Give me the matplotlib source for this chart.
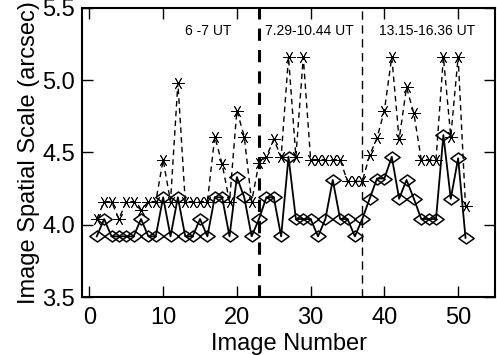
import numpy as np
import matplotlib
matplotlib.use("Agg")
import matplotlib.pyplot as plt
from matplotlib.path import Path

plt.rcParams['font.family'] = ['Liberation Sans', 'DejaVu Sans']

# ========================
# Data
# ========================
image_number = list(range(1, 52))

# solid line, diamonds
scale_diamond = [
    3.92, 4.04, 3.92, 3.92, 3.92, 3.92, 4.04, 3.92, 3.92, 4.19,
    3.92, 4.19, 3.92, 3.92, 4.04, 3.92, 4.19, 4.19, 3.92, 4.33,
    4.19, 3.92, 4.04, 4.19, 4.19, 3.92, 4.47, 4.04, 4.04, 4.04,
    3.92, 4.04, 4.31, 4.04, 4.04, 3.92, 4.04, 4.18, 4.32, 4.32,
    4.47, 4.18, 4.31, 4.18, 4.04, 4.04, 4.04, 4.62, 4.18, 4.46,
    3.91,
]

# dashed line, stars
scale_star = [
    4.04, 4.16, 4.16, 4.04, 4.16, 4.16, 4.10, 4.16, 4.16, 4.45,
    4.16, 4.98, 4.16, 4.16, 4.16, 4.16, 4.61, 4.42, 4.16, 4.79,
    4.61, 4.16, 4.43, 4.47, 4.59, 4.47, 5.16, 4.47, 5.16, 4.45,
    4.45, 4.45, 4.45, 4.45, 4.30, 4.30, 4.30, 4.48, 4.60, 4.79,
    5.16, 4.59, 4.95, 4.77, 4.45, 4.45, 4.45, 5.16, 4.61, 5.16,
    4.13,
]

# observing run boundaries and labels
run_breaks = [23, 37]
run_labels = ["6 -7 UT", "7.29-10.44 UT", "13.15-16.36 UT"]
run_label_x = [13, 23.8, 39.3]

# wide hollow diamond
diamond = Path([(-1, 0), (0, 0.72), (1, 0), (0, -0.72), (-1, 0)],
               [Path.MOVETO, Path.LINETO, Path.LINETO, Path.LINETO, Path.CLOSEPOLY])

fig = plt.figure(figsize=(4.97, 3.55), dpi=100)
ax = fig.add_axes([0.165, 0.163, 0.831, 0.815])

ax.plot(image_number, scale_star, color='black', lw=1.0, dashes=(4, 3),
        marker=(6, 2, 90), markersize=9, markeredgewidth=0.6)
ax.plot(image_number, scale_diamond, color='black', lw=1.3,
        marker=diamond, markersize=11, markerfacecolor='none',
        markeredgewidth=1.1)

ax.axvline(run_breaks[0], color='black', lw=2.2, dashes=(4, 3))
ax.axvline(run_breaks[1], color='black', lw=1.0, dashes=(6, 4))

for x, lab in zip(run_label_x, run_labels):
    ax.text(x, 5.34, lab, fontsize=10, ha='left', va='center')

ax.set_xlim(-1.0, 55)
ax.set_ylim(3.5, 5.5)
ax.set_xticks([0, 10, 20, 30, 40, 50])
ax.set_yticks([3.5, 4.0, 4.5, 5.0, 5.5])
ax.set_yticklabels(["3.5", "4.0", "4.5", "5.0", "5.5"])
ax.tick_params(direction='in', length=8, width=1, labelsize=17,
               top=True, right=True, pad=5)
ax.tick_params(axis='x', pad=7)
for sp in ax.spines.values():
    sp.set_linewidth(1.5)

ax.set_xlabel("Image Number", fontsize=17, labelpad=3)
ax.set_ylabel("Image Spatial Scale (arcsec)", fontsize=17, labelpad=2)

fig.savefig("out.png", dpi=100)
